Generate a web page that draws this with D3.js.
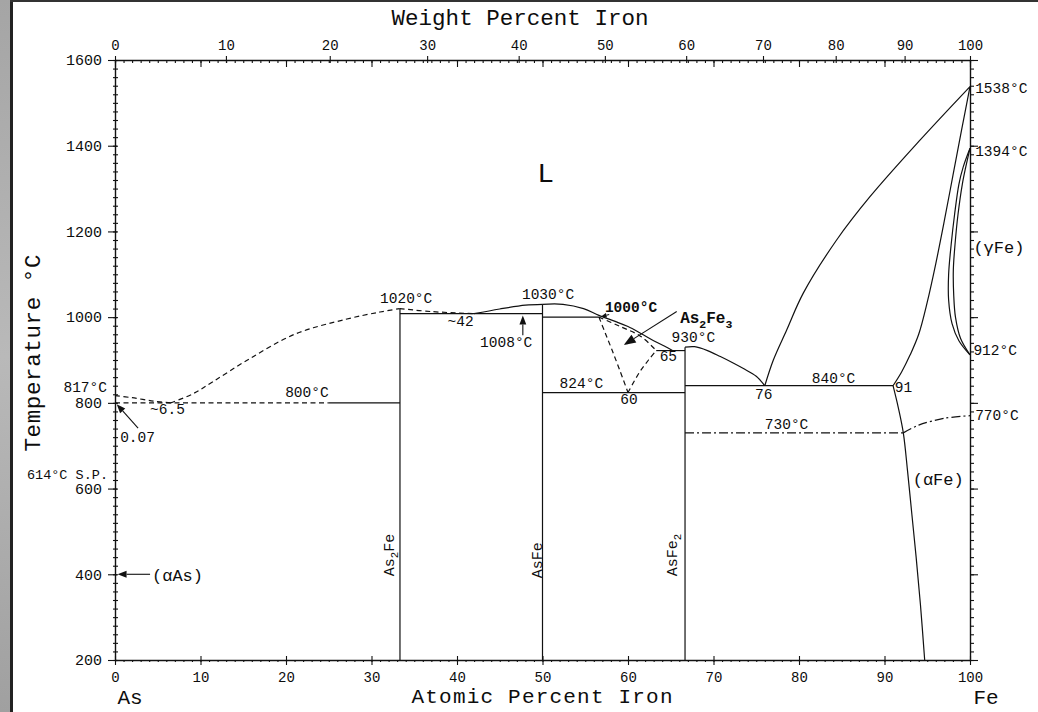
<!DOCTYPE html>
<html>
<head>
<meta charset="utf-8">
<script src="https://cdn.jsdelivr.net/npm/d3@7"></script>
<style>
  body { margin: 0; background: #fff; }
  svg text { font-family: "Liberation Mono", monospace; fill: #0d0d0d; }
</style>
</head>
<body>
<svg id="chart" width="1038" height="712"></svg>
<script>
// ---- axes / ticks ----
const atomicTicks = d3.range(0, 101, 10);
const atomicMinor = d3.range(0, 101, 1);
const weightTicks = d3.range(0, 101, 10);
const tempTicks = d3.range(200, 1601, 200);
const tempMinor = d3.range(200, 1601, 20);

// ---- phase boundaries, [at.% Fe, °C] ----
const liquidusAsSide = [[0, 817], [2, 812], [4.5, 804], [6.5, 800]];
const liquidusAs2Fe = [[6.5, 800], [9, 820], [11.5, 850], [15.5, 900], [21, 960], [27, 995], [31, 1012], [33.3, 1020]];
const eutectic800Dash = [[0, 800], [25, 800]];
const eutectic800 = [[25, 800], [33.33, 800]];
const as2FeLine = [[33.33, 200], [33.33, 1020]];
const liquidusTo42 = [[33.3, 1020], [37, 1013], [42, 1008]];
const liquidusAsFeL = [[42, 1008], [45, 1019], [48, 1028], [50, 1030]];
const eutectic1008 = [[33.33, 1008], [50, 1008]];
const asFeLine = [[50, 200], [50, 1030]];
const liquidusAsFeR = [[50, 1030], [52.4, 1030], [54.8, 1020], [56.6, 1004], [58.5, 990], [60, 978], [61.5, 962], [63, 945], [64.3, 932], [65.2, 922]];
const peritectic1000 = [[50, 1000], [56.6, 1000]];
const as2Fe3Left = [[56.6, 1000], [57.3, 965], [58.1, 925], [59, 878], [60, 824]];
const as2Fe3Top = [[56.6, 1000], [59, 979], [61.5, 955], [63.3, 922]];
const as2Fe3Right = [[60, 824], [61.3, 870], [62.4, 900], [63.3, 922]];
const eutectic922 = [[63.3, 922], [66.67, 922]];
const eutectic824 = [[50, 824], [66.67, 824]];
const asFe2Line = [[66.67, 200], [66.67, 930]];
const liquidusAsFe2 = [[66.67, 930], [67.8, 931], [69.3, 922], [70.8, 908], [72.3, 893], [73.5, 880], [75, 862], [76, 840]];
const eutectic840 = [[66.67, 840], [91, 840]];
const liquidusFe = [[76, 840], [77, 900], [78.56, 970], [80.5, 1056], [84.4, 1180], [88.3, 1281], [94.15, 1413], [100, 1538]];
const solidusFe = [[91, 840], [92, 872], [93, 912], [94, 960], [95, 1035], [96, 1125], [97, 1225], [98, 1330], [99, 1435], [100, 1538]];
const gammaOuter = [[100, 1394], [99.2, 1350], [98.7, 1310], [98.2, 1240], [97.8, 1170], [97.5, 1100], [97.5, 1040], [97.9, 985], [98.7, 945], [100, 912]];
const gammaInner = [[100, 1394], [99.5, 1350], [99.1, 1310], [98.6, 1240], [98.25, 1170], [98.05, 1110], [98.1, 1050], [98.3, 1000], [98.9, 950], [100, 912]];
const solvusAlpha = [[91, 840], [91.6, 790], [92.2, 730], [92.7, 640], [93.2, 540], [93.7, 440], [94.2, 330], [94.7, 200]];
const curie730 = [[66.67, 730], [92.2, 730]];
const curieFe = [[92.2, 730], [94, 748], [97, 764], [100, 770]];

// ---- annotations ----
const arrows = [
  { from: [2.7, 741], to: [0.2, 797], size: 9 },
  { from: [4.1, 400], to: [0.3, 400], size: 9 },
  { from: [47.7, 958], to: [47.7, 1004], size: 9 },
  { from: [65.7, 1013], to: [59.5, 935], size: 12 },
  { from: [57.8, 1006], to: [56.8, 1001], size: 6 },
];
// [text, at.%, °C, anchor, size, weight]
const labels = [
  ["1020°C", 31.0, 1033],
  ["~42", 38.9, 979],
  ["1008°C", 42.7, 930],
  ["1030°C", 47.6, 1042],
  ["1000°C", 57.3, 1012, "start", 14.5, "bold"],
  ["930°C", 65.1, 942],
  ["65", 63.7, 898],
  ["824°C", 52.0, 835],
  ["60", 59.1, 797],
  ["76", 74.85, 809],
  ["840°C", 81.5, 846],
  ["91", 91.2, 825],
  ["730°C", 76.0, 739],
  ["800°C", 19.9, 814],
  ["~6.5", 4.1, 774],
  ["0.07", 0.6, 709],
  ["817°C", -0.94, 825, "end"],
  ["614°C S.P.", -0.82, 622, "end", 13.5],
  ["1538°C", 100.6, 1523],
  ["1394°C", 100.6, 1376],
  ["912°C", 100.4, 912],
  ["770°C", 100.6, 760],
  ["(αAs)", 4.33, 384, "start", 17],
  ["(αFe)", 93.3, 608, "start", 17],
  ["(γFe)", 100.4, 1150, "start", 17],
  ["As_2Fe_3", 66.1, 986, "start", 16, "bold"],
  ["L", 49.4, 1315, "start", 28],
];
// compound names drawn vertically: [text, at.% of baseline, °C of centre]
const compounds = [
  ["As_2Fe", 32.6, 445],
  ["AsFe", 49.9, 433],
  ["AsFe_2", 65.7, 445],
];

const width = 1038, height = 712;
const margin = { top: 60, right: 68, bottom: 52, left: 115 };

const x = d3.scaleLinear().domain([0, 100]).range([margin.left, width - margin.right]);
const y = d3.scaleLinear().domain([200, 1600]).range([height - margin.bottom, margin.top]);

// weight % Fe -> atomic % Fe (As 74.9216, Fe 55.845)
function wtToAt(w) {
  const fe = w / 55.845, as = (100 - w) / 74.9216;
  return (100 * fe) / (fe + as);
}

const svg = d3.select("#chart");
svg.append("rect").attr("width", width).attr("height", height).attr("fill", "#fff");

// frame
const strip = svg.append("defs").append("linearGradient").attr("id", "strip")
  .attr("x1", 0).attr("x2", 0).attr("y1", 0).attr("y2", 1);
strip.append("stop").attr("offset", 0).attr("stop-color", "#a5a5a5");
strip.append("stop").attr("offset", 0.5).attr("stop-color", "#b9b9b9");
strip.append("stop").attr("offset", 1).attr("stop-color", "#a0a0a0");
svg.append("rect").attr("width", 10).attr("height", height).attr("fill", "url(#strip)");
svg.append("rect").attr("x", 10).attr("width", 3).attr("height", height).attr("fill", "#222");
svg.append("rect").attr("x", 10).attr("width", width - 10).attr("height", 2).attr("fill", "#333");

function styleAxis(g, size) {
  g.attr("font-family", "Liberation Mono").attr("font-size", size);
  g.selectAll(".domain").attr("stroke", "#111").attr("stroke-width", 1.4);
  g.selectAll(".tick line").attr("stroke", "#111").attr("stroke-width", 1.1);
}

// left axis
svg.append("g").attr("transform", `translate(${margin.left},0)`)
  .call(d3.axisLeft(y).tickValues(tempMinor).tickSize(2).tickSizeOuter(0).tickFormat(""))
  .call((g) => { styleAxis(g, 14); g.selectAll(".tick line").attr("x1", 3); });
svg.append("g").attr("transform", `translate(${margin.left},0)`)
  .call(d3.axisLeft(y).tickValues(tempTicks).tickSize(7).tickPadding(6).tickSizeOuter(0).tickFormat(d3.format("d")))
  .call((g) => { styleAxis(g, 15); g.select(".domain").remove(); g.selectAll(".tick line").attr("x1", 2); });

// right axis
svg.append("g").attr("transform", `translate(${width - margin.right},0)`)
  .call(d3.axisRight(y).tickValues(tempMinor).tickSize(4).tickSizeOuter(0).tickFormat(""))
  .call((g) => styleAxis(g, 14));
svg.append("g").attr("transform", `translate(${width - margin.right},0)`)
  .call(d3.axisRight(y).tickValues(tempTicks).tickSize(8).tickFormat(""))
  .call((g) => { styleAxis(g, 14); g.select(".domain").remove(); });

// bottom axis (atomic %)
svg.append("g").attr("transform", `translate(0,${height - margin.bottom})`)
  .call(d3.axisBottom(x).tickValues(atomicMinor).tickSize(2).tickSizeOuter(0).tickFormat(""))
  .call((g) => styleAxis(g, 14));
svg.append("g").attr("transform", `translate(0,${height - margin.bottom})`)
  .call(d3.axisBottom(x).tickValues(atomicTicks).tickSize(5).tickPadding(7).tickFormat(d3.format("d")))
  .call((g) => { styleAxis(g, 14); g.select(".domain").remove(); g.selectAll(".tick line").attr("y1", -4); });

// top axis: atomic ticks below the line, weight % labels above
svg.append("g").attr("transform", `translate(0,${margin.top})`)
  .call(d3.axisTop(x).tickValues(atomicMinor).tickSize(0).tickSizeOuter(0).tickFormat(""))
  .call((g) => { styleAxis(g, 14); g.selectAll(".tick line").attr("y2", 3); });
svg.append("g").attr("transform", `translate(0,${margin.top})`)
  .call(d3.axisTop(x).tickValues(atomicTicks).tickSize(0).tickFormat(""))
  .call((g) => { styleAxis(g, 14); g.select(".domain").remove(); g.selectAll(".tick line").attr("y2", 7); });
svg.append("g").attr("transform", `translate(0,${margin.top})`)
  .call(d3.axisTop(x).tickValues(weightTicks.map(wtToAt)).tickSize(4).tickPadding(6)
    .tickFormat((d, i) => weightTicks[i]))
  .call((g) => { styleAxis(g, 14); g.select(".domain").remove(); g.selectAll(".tick line").attr("y1", 3); });

// axis titles
svg.append("text").attr("x", 520).attr("y", 25).attr("text-anchor", "middle")
  .attr("font-size", 22.5).attr("textLength", 257).text("Weight Percent Iron");
svg.append("text").attr("x", 542).attr("y", 703).attr("text-anchor", "middle")
  .attr("font-size", 21).attr("textLength", 261).text("Atomic Percent Iron");
svg.append("text").attr("x", 130).attr("y", 704).attr("text-anchor", "middle")
  .attr("font-size", 21).text("As");
svg.append("text").attr("x", 986).attr("y", 704).attr("text-anchor", "middle")
  .attr("font-size", 21).text("Fe");
svg.append("text").attr("transform", "translate(40,353) rotate(-90)").attr("text-anchor", "middle")
  .attr("font-size", 22.5).attr("textLength", 197).text("Temperature °C");

// phase boundaries
const smooth = d3.line().x((d) => x(d[0])).y((d) => y(d[1])).curve(d3.curveCatmullRom.alpha(0.5));
const straight = d3.line().x((d) => x(d[0])).y((d) => y(d[1]));
const DASH = "5,3.5", DASHDOT = "9,3,2,3";

const boundaries = [
  [liquidusAsSide, smooth, DASH],
  [liquidusAs2Fe, smooth, DASH],
  [eutectic800Dash, straight, DASH],
  [eutectic800, straight, null],
  [as2FeLine, straight, null],
  [liquidusTo42, smooth, DASH],
  [liquidusAsFeL, smooth, null],
  [eutectic1008, straight, null],
  [asFeLine, straight, null],
  [liquidusAsFeR, smooth, null],
  [peritectic1000, straight, null],
  [as2Fe3Left, smooth, DASH],
  [as2Fe3Top, smooth, DASH],
  [as2Fe3Right, smooth, DASH],
  [eutectic922, straight, null],
  [eutectic824, straight, null],
  [asFe2Line, straight, null],
  [liquidusAsFe2, smooth, null],
  [eutectic840, straight, null],
  [liquidusFe, smooth, null],
  [solidusFe, smooth, null],
  [gammaOuter, smooth, null],
  [gammaInner, smooth, null],
  [solvusAlpha, smooth, null],
  [curie730, straight, DASHDOT],
  [curieFe, smooth, DASHDOT],
];

svg.append("g").attr("class", "boundaries")
  .selectAll("path").data(boundaries).join("path")
  .attr("d", (d) => d[1](d[0]))
  .attr("fill", "none")
  .attr("stroke", "#111")
  .attr("stroke-width", 1.2)
  .attr("stroke-dasharray", (d) => d[2]);

// arrows
const gArrows = svg.append("g").attr("class", "arrows");
arrows.forEach((a) => {
  const x0 = x(a.from[0]), y0 = y(a.from[1]), x1 = x(a.to[0]), y1 = y(a.to[1]);
  const ang = Math.atan2(y1 - y0, x1 - x0), s = a.size, w = s * 0.38;
  const bx = x1 - s * Math.cos(ang), by = y1 - s * Math.sin(ang);
  gArrows.append("line").attr("x1", x0).attr("y1", y0).attr("x2", bx).attr("y2", by)
    .attr("stroke", "#111").attr("stroke-width", 1.1);
  gArrows.append("path")
    .attr("d", `M${x1},${y1}L${bx + w * Math.sin(ang)},${by - w * Math.cos(ang)}L${bx - w * Math.sin(ang)},${by + w * Math.cos(ang)}Z`)
    .attr("fill", "#111");
});

// text with _n subscripts
function richText(sel, str, size) {
  str.split(/(_\d)/).filter((s) => s).forEach((part) => {
    if (part[0] === "_") {
      sel.append("tspan").attr("font-size", size * 0.72).attr("dy", size * 0.28).text(part.slice(1));
    } else {
      const t = sel.append("tspan").text(part);
      if (sel.selectAll("tspan").size() > 1) t.attr("dy", -size * 0.28);
    }
  });
}

const gLabels = svg.append("g").attr("class", "labels");
labels.forEach(([text, a, t, anchor = "start", size = 14.5, weight = "normal"]) => {
  const el = gLabels.append("text")
    .attr("x", x(a)).attr("y", y(t))
    .attr("text-anchor", anchor)
    .attr("font-size", size)
    .attr("font-weight", weight);
  richText(el, text, size);
});

compounds.forEach(([text, a, t]) => {
  const el = gLabels.append("text")
    .attr("transform", `translate(${x(a)},${y(t)}) rotate(-90)`)
    .attr("text-anchor", "middle")
    .attr("font-size", 15);
  richText(el, text, 15);
});
</script>
</body>
</html>
